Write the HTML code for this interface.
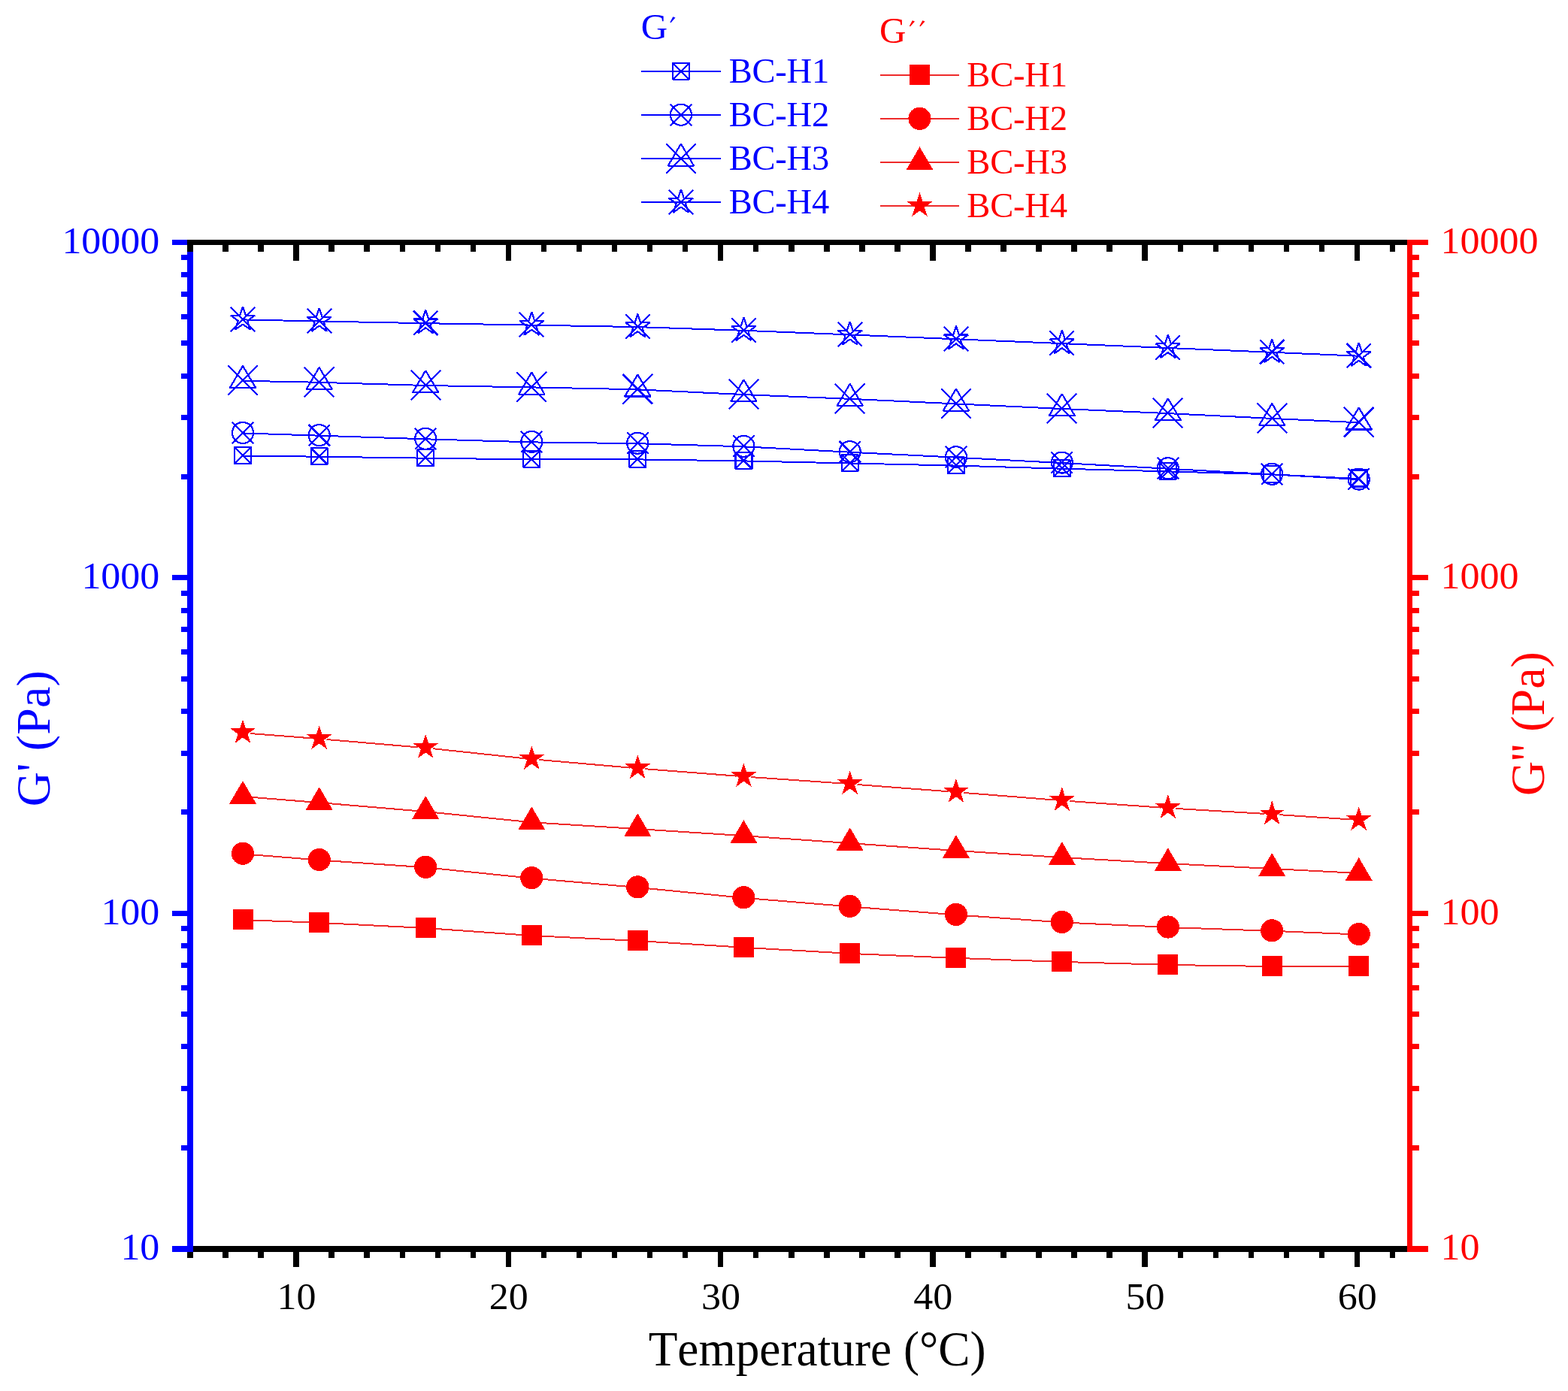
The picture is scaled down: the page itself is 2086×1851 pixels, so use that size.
<!DOCTYPE html>
<html lang="en">
<head>
<meta charset="utf-8">
<title>G' and G'' vs Temperature</title>
<style>
html,body{margin:0;padding:0;background:#fff;}
body{width:2086px;height:1851px;}
svg{display:block;}
</style>
</head>
<body>
<svg width="2086" height="1851" viewBox="0 0 2086 1851">
<rect width="2086" height="1851" fill="#fff"/>
<defs><g id="bsq"><rect x="-11" y="-11" width="22" height="22"/><path d="M-11-11L11 11M-11 11L11-11"/></g><g id="bci"><circle r="14"/><path d="M-14.2-14.2L14.2 14.2M-14.2 14.2L14.2-14.2"/></g><g id="btr"><path d="M0-19.4L17.2 9.8H-17.2Z"/><path d="M-19.8-19.8L19.8 19.8M-19.8 19.8L19.8-19.8"/></g><g id="bst"><polygon points="0.00,-17.00 3.82,-5.25 16.17,-5.25 6.18,2.01 9.99,13.75 0.00,6.49 -9.99,13.75 -6.18,2.01 -16.17,-5.25 -3.82,-5.25"/><path d="M-16.2-16.2L16.2 16.2M-16.2 16.2L16.2-16.2"/></g><rect id="rsq" x="-13.5" y="-13.5" width="27" height="27"/><circle id="rci" r="15.1"/><path id="rtr" d="M0-20.4L18 10.3H-18Z"/><polygon id="rst" points="0.00,-17.60 3.95,-5.44 16.74,-5.44 6.39,2.08 10.35,14.24 0.00,6.72 -10.35,14.24 -6.39,2.08 -16.74,-5.44 -3.95,-5.44"/></defs>
<g id="data" shape-rendering="crispEdges">
<polyline points="323.0,606.6 424.7,607.7 566.2,609.7 707.3,611.4 848.3,611.4 989.4,613.4 1130.7,616.5 1271.9,619.6 1412.8,623.7 1553.8,627.4 1692.2,631.3 1807.7,637.1" stroke="#0000ff" stroke-width="2" fill="none"/><g fill="none" stroke="#0000ff" stroke-width="2.2" stroke-linejoin="bevel"><use href="#bsq" x="323.0" y="606.1"/><use href="#bsq" x="424.7" y="607.2"/><use href="#bsq" x="566.2" y="609.2"/><use href="#bsq" x="707.3" y="610.9"/><use href="#bsq" x="848.3" y="610.9"/><use href="#bsq" x="989.4" y="612.9"/><use href="#bsq" x="1130.7" y="616.0"/><use href="#bsq" x="1271.9" y="619.1"/><use href="#bsq" x="1412.8" y="623.2"/><use href="#bsq" x="1553.8" y="626.9"/><use href="#bsq" x="1692.2" y="630.8"/><use href="#bsq" x="1807.7" y="636.6"/></g>
<polyline points="323.0,576.4 424.7,579.7 566.2,584.3 707.3,588.4 848.3,590.2 989.4,594.3 1130.7,601.7 1271.9,608.7 1412.8,616.1 1553.8,623.7 1692.2,631.3 1807.7,638.1" stroke="#0000ff" stroke-width="2" fill="none"/><g fill="none" stroke="#0000ff" stroke-width="2.2" stroke-linejoin="bevel"><use href="#bci" x="323.0" y="575.9"/><use href="#bci" x="424.7" y="579.2"/><use href="#bci" x="566.2" y="583.8"/><use href="#bci" x="707.3" y="587.9"/><use href="#bci" x="848.3" y="589.7"/><use href="#bci" x="989.4" y="593.8"/><use href="#bci" x="1130.7" y="601.2"/><use href="#bci" x="1271.9" y="608.2"/><use href="#bci" x="1412.8" y="615.6"/><use href="#bci" x="1553.8" y="623.2"/><use href="#bci" x="1692.2" y="630.8"/><use href="#bci" x="1807.7" y="637.6"/></g>
<polyline points="323.0,506.8 424.7,508.8 566.2,513.0 707.3,515.4 848.3,518.3 989.4,525.1 1130.7,530.8 1271.9,537.4 1412.8,544.0 1553.8,550.1 1692.2,556.9 1807.7,562.3" stroke="#0000ff" stroke-width="2" fill="none"/><g fill="none" stroke="#0000ff" stroke-width="2.2" stroke-linejoin="bevel"><use href="#btr" x="323.0" y="506.3"/><use href="#btr" x="424.7" y="508.3"/><use href="#btr" x="566.2" y="512.5"/><use href="#btr" x="707.3" y="514.9"/><use href="#btr" x="848.3" y="517.8"/><use href="#btr" x="989.4" y="524.6"/><use href="#btr" x="1130.7" y="530.3"/><use href="#btr" x="1271.9" y="536.9"/><use href="#btr" x="1412.8" y="543.5"/><use href="#btr" x="1553.8" y="549.6"/><use href="#btr" x="1692.2" y="556.4"/><use href="#btr" x="1807.7" y="561.8"/></g>
<polyline points="323.0,425.4 424.7,427.5 566.2,430.2 707.3,432.6 848.3,435.1 989.4,439.8 1130.7,445.4 1271.9,451.3 1412.8,457.1 1553.8,463.0 1692.2,468.8 1807.7,473.7" stroke="#0000ff" stroke-width="2" fill="none"/><g fill="none" stroke="#0000ff" stroke-width="2.2" stroke-linejoin="bevel"><use href="#bst" x="323.0" y="424.9"/><use href="#bst" x="424.7" y="427.0"/><use href="#bst" x="566.2" y="429.7"/><use href="#bst" x="707.3" y="432.1"/><use href="#bst" x="848.3" y="434.6"/><use href="#bst" x="989.4" y="439.3"/><use href="#bst" x="1130.7" y="444.9"/><use href="#bst" x="1271.9" y="450.8"/><use href="#bst" x="1412.8" y="456.6"/><use href="#bst" x="1553.8" y="462.5"/><use href="#bst" x="1692.2" y="468.3"/><use href="#bst" x="1807.7" y="473.2"/></g>
<path d="M332.8 1224.4L414.9 1227.5M434.5 1228.4L556.4 1234.5M576.0 1235.7L697.5 1244.3M717.1 1245.5L838.5 1251.5M858.1 1252.6L979.6 1260.2M999.2 1261.4L1120.9 1268.3M1140.5 1269.3L1262.1 1274.5M1281.7 1275.2L1403.0 1279.6M1422.6 1280.2L1544.0 1283.6M1563.6 1284.1L1682.4 1285.9M1702.0 1286.1L1797.9 1286.1" stroke="#ee2a2a" stroke-width="2" fill="none"/><g fill="#ff0000"><use href="#rsq" x="323.0" y="1223.5"/><use href="#rsq" x="424.7" y="1227.4"/><use href="#rsq" x="566.2" y="1234.5"/><use href="#rsq" x="707.3" y="1244.5"/><use href="#rsq" x="848.3" y="1251.5"/><use href="#rsq" x="989.4" y="1260.3"/><use href="#rsq" x="1130.7" y="1268.4"/><use href="#rsq" x="1271.9" y="1274.4"/><use href="#rsq" x="1412.8" y="1279.4"/><use href="#rsq" x="1553.8" y="1283.4"/><use href="#rsq" x="1692.2" y="1285.6"/><use href="#rsq" x="1807.7" y="1285.6"/></g>
<path d="M332.8 1137.1L414.9 1143.7M434.5 1145.2L556.4 1153.6M575.9 1155.3L697.6 1167.7M717.1 1169.5L838.5 1180.1M858.1 1181.9L979.6 1193.8M999.2 1195.6L1120.9 1205.6M1140.5 1207.2L1262.1 1216.6M1281.7 1218.1L1403.0 1226.7M1422.6 1227.9L1544.0 1233.5M1563.6 1234.3L1682.4 1238.5M1702.0 1239.2L1797.9 1243.1" stroke="#ee2a2a" stroke-width="2" fill="none"/><g fill="#ff0000"><use href="#rci" x="323.0" y="1135.8"/><use href="#rci" x="424.7" y="1144.0"/><use href="#rci" x="566.2" y="1153.8"/><use href="#rci" x="707.3" y="1168.2"/><use href="#rci" x="848.3" y="1180.4"/><use href="#rci" x="989.4" y="1194.3"/><use href="#rci" x="1130.7" y="1205.9"/><use href="#rci" x="1271.9" y="1216.9"/><use href="#rci" x="1412.8" y="1226.9"/><use href="#rci" x="1553.8" y="1233.5"/><use href="#rci" x="1692.2" y="1238.3"/><use href="#rci" x="1807.7" y="1243.0"/></g>
<path d="M332.8 1060.7L414.9 1067.3M434.5 1068.9L556.4 1079.2M576.0 1081.0L697.5 1093.3M717.1 1094.9L838.5 1102.5M858.1 1103.7L979.6 1111.5M999.2 1112.8L1120.9 1121.4M1140.5 1122.8L1262.1 1131.3M1281.7 1132.6L1403.0 1140.4M1422.6 1141.6L1544.0 1148.5M1563.6 1149.6L1682.4 1155.5M1702.0 1156.5L1797.9 1161.5" stroke="#ee2a2a" stroke-width="2" fill="none"/><g fill="#ff0000"><use href="#rtr" x="323.0" y="1059.4"/><use href="#rtr" x="424.7" y="1067.6"/><use href="#rtr" x="566.2" y="1079.5"/><use href="#rtr" x="707.3" y="1093.8"/><use href="#rtr" x="848.3" y="1102.6"/><use href="#rtr" x="989.4" y="1111.6"/><use href="#rtr" x="1130.7" y="1121.6"/><use href="#rtr" x="1271.9" y="1131.5"/><use href="#rtr" x="1412.8" y="1140.5"/><use href="#rtr" x="1553.8" y="1148.6"/><use href="#rtr" x="1692.2" y="1155.5"/><use href="#rtr" x="1807.7" y="1161.5"/></g>
<path d="M332.8 976.0L414.9 982.4M434.5 984.0L556.4 994.4M575.9 996.2L697.6 1009.2M717.1 1011.0L838.5 1021.6M858.1 1023.2L979.6 1032.6M999.2 1034.1L1120.9 1042.5M1140.5 1044.0L1262.1 1053.3M1281.7 1054.9L1403.0 1064.5M1422.6 1066.0L1544.0 1074.6M1563.6 1075.9L1682.4 1082.9M1702.0 1084.2L1797.9 1090.5" stroke="#ee2a2a" stroke-width="2" fill="none"/><g fill="#ff0000"><use href="#rst" x="323.0" y="974.7"/><use href="#rst" x="424.7" y="982.7"/><use href="#rst" x="566.2" y="994.7"/><use href="#rst" x="707.3" y="1009.7"/><use href="#rst" x="848.3" y="1021.9"/><use href="#rst" x="989.4" y="1032.9"/><use href="#rst" x="1130.7" y="1042.7"/><use href="#rst" x="1271.9" y="1053.6"/><use href="#rst" x="1412.8" y="1064.8"/><use href="#rst" x="1553.8" y="1074.8"/><use href="#rst" x="1692.2" y="1083.0"/><use href="#rst" x="1807.7" y="1090.7"/></g>
</g>
<g id="axes" shape-rendering="crispEdges"><rect x="249.00" y="1658.00" width="1630.00" height="8.00" fill="#000000"/><rect x="249.00" y="319.00" width="1630.00" height="7.00" fill="#000000"/><rect x="249.00" y="1666.00" width="8.00" height="8.00" fill="#000000"/><rect x="249.00" y="326.00" width="8.00" height="9.00" fill="#000000"/><rect x="296.00" y="1666.00" width="8.00" height="8.00" fill="#000000"/><rect x="296.00" y="326.00" width="8.00" height="9.00" fill="#000000"/><rect x="343.00" y="1666.00" width="8.00" height="8.00" fill="#000000"/><rect x="343.00" y="326.00" width="8.00" height="9.00" fill="#000000"/><rect x="390.00" y="1666.00" width="8.00" height="20.00" fill="#000000"/><rect x="390.00" y="326.00" width="8.00" height="21.00" fill="#000000"/><rect x="437.00" y="1666.00" width="8.00" height="8.00" fill="#000000"/><rect x="437.00" y="326.00" width="8.00" height="9.00" fill="#000000"/><rect x="484.00" y="1666.00" width="8.00" height="8.00" fill="#000000"/><rect x="484.00" y="326.00" width="8.00" height="9.00" fill="#000000"/><rect x="532.00" y="1666.00" width="7.00" height="8.00" fill="#000000"/><rect x="532.00" y="326.00" width="7.00" height="9.00" fill="#000000"/><rect x="579.00" y="1666.00" width="7.00" height="8.00" fill="#000000"/><rect x="579.00" y="326.00" width="7.00" height="9.00" fill="#000000"/><rect x="626.00" y="1666.00" width="7.00" height="8.00" fill="#000000"/><rect x="626.00" y="326.00" width="7.00" height="9.00" fill="#000000"/><rect x="673.00" y="1666.00" width="7.00" height="20.00" fill="#000000"/><rect x="673.00" y="326.00" width="7.00" height="21.00" fill="#000000"/><rect x="720.00" y="1666.00" width="7.00" height="8.00" fill="#000000"/><rect x="720.00" y="326.00" width="7.00" height="9.00" fill="#000000"/><rect x="767.00" y="1666.00" width="7.00" height="8.00" fill="#000000"/><rect x="767.00" y="326.00" width="7.00" height="9.00" fill="#000000"/><rect x="814.00" y="1666.00" width="7.00" height="8.00" fill="#000000"/><rect x="814.00" y="326.00" width="7.00" height="9.00" fill="#000000"/><rect x="861.00" y="1666.00" width="7.00" height="8.00" fill="#000000"/><rect x="861.00" y="326.00" width="7.00" height="9.00" fill="#000000"/><rect x="908.00" y="1666.00" width="7.00" height="8.00" fill="#000000"/><rect x="908.00" y="326.00" width="7.00" height="9.00" fill="#000000"/><rect x="955.00" y="1666.00" width="7.00" height="20.00" fill="#000000"/><rect x="955.00" y="326.00" width="7.00" height="21.00" fill="#000000"/><rect x="1002.00" y="1666.00" width="7.00" height="8.00" fill="#000000"/><rect x="1002.00" y="326.00" width="7.00" height="9.00" fill="#000000"/><rect x="1049.00" y="1666.00" width="8.00" height="8.00" fill="#000000"/><rect x="1049.00" y="326.00" width="8.00" height="9.00" fill="#000000"/><rect x="1096.00" y="1666.00" width="8.00" height="8.00" fill="#000000"/><rect x="1096.00" y="326.00" width="8.00" height="9.00" fill="#000000"/><rect x="1143.00" y="1666.00" width="8.00" height="8.00" fill="#000000"/><rect x="1143.00" y="326.00" width="8.00" height="9.00" fill="#000000"/><rect x="1190.00" y="1666.00" width="8.00" height="8.00" fill="#000000"/><rect x="1190.00" y="326.00" width="8.00" height="9.00" fill="#000000"/><rect x="1237.00" y="1666.00" width="8.00" height="20.00" fill="#000000"/><rect x="1237.00" y="326.00" width="8.00" height="21.00" fill="#000000"/><rect x="1284.00" y="1666.00" width="8.00" height="8.00" fill="#000000"/><rect x="1284.00" y="326.00" width="8.00" height="9.00" fill="#000000"/><rect x="1331.00" y="1666.00" width="8.00" height="8.00" fill="#000000"/><rect x="1331.00" y="326.00" width="8.00" height="9.00" fill="#000000"/><rect x="1378.00" y="1666.00" width="8.00" height="8.00" fill="#000000"/><rect x="1378.00" y="326.00" width="8.00" height="9.00" fill="#000000"/><rect x="1425.00" y="1666.00" width="8.00" height="8.00" fill="#000000"/><rect x="1425.00" y="326.00" width="8.00" height="9.00" fill="#000000"/><rect x="1472.00" y="1666.00" width="8.00" height="8.00" fill="#000000"/><rect x="1472.00" y="326.00" width="8.00" height="9.00" fill="#000000"/><rect x="1519.00" y="1666.00" width="8.00" height="20.00" fill="#000000"/><rect x="1519.00" y="326.00" width="8.00" height="21.00" fill="#000000"/><rect x="1567.00" y="1666.00" width="7.00" height="8.00" fill="#000000"/><rect x="1567.00" y="326.00" width="7.00" height="9.00" fill="#000000"/><rect x="1614.00" y="1666.00" width="7.00" height="8.00" fill="#000000"/><rect x="1614.00" y="326.00" width="7.00" height="9.00" fill="#000000"/><rect x="1661.00" y="1666.00" width="7.00" height="8.00" fill="#000000"/><rect x="1661.00" y="326.00" width="7.00" height="9.00" fill="#000000"/><rect x="1708.00" y="1666.00" width="7.00" height="8.00" fill="#000000"/><rect x="1708.00" y="326.00" width="7.00" height="9.00" fill="#000000"/><rect x="1755.00" y="1666.00" width="7.00" height="8.00" fill="#000000"/><rect x="1755.00" y="326.00" width="7.00" height="9.00" fill="#000000"/><rect x="1802.00" y="1666.00" width="7.00" height="20.00" fill="#000000"/><rect x="1802.00" y="326.00" width="7.00" height="21.00" fill="#000000"/><rect x="1849.00" y="1666.00" width="7.00" height="8.00" fill="#000000"/><rect x="1849.00" y="326.00" width="7.00" height="9.00" fill="#000000"/><rect x="249.00" y="335.00" width="8.00" height="1331.00" fill="#0000ff"/><rect x="1872.00" y="319.00" width="7.00" height="1347.00" fill="#ff0000"/><rect x="229.00" y="1658.00" width="28.00" height="8.00" fill="#0000ff"/><rect x="1879.00" y="1658.00" width="21.00" height="8.00" fill="#ff0000"/><rect x="241.00" y="1524.00" width="8.00" height="7.00" fill="#0000ff"/><rect x="1879.00" y="1524.00" width="9.00" height="7.00" fill="#ff0000"/><rect x="241.00" y="1445.00" width="8.00" height="7.00" fill="#0000ff"/><rect x="1879.00" y="1445.00" width="9.00" height="7.00" fill="#ff0000"/><rect x="241.00" y="1389.00" width="8.00" height="7.00" fill="#0000ff"/><rect x="1879.00" y="1389.00" width="9.00" height="7.00" fill="#ff0000"/><rect x="241.00" y="1346.00" width="8.00" height="7.00" fill="#0000ff"/><rect x="1879.00" y="1346.00" width="9.00" height="7.00" fill="#ff0000"/><rect x="241.00" y="1311.00" width="8.00" height="7.00" fill="#0000ff"/><rect x="1879.00" y="1311.00" width="9.00" height="7.00" fill="#ff0000"/><rect x="241.00" y="1281.00" width="8.00" height="7.00" fill="#0000ff"/><rect x="1879.00" y="1281.00" width="9.00" height="7.00" fill="#ff0000"/><rect x="241.00" y="1255.00" width="8.00" height="7.00" fill="#0000ff"/><rect x="1879.00" y="1255.00" width="9.00" height="7.00" fill="#ff0000"/><rect x="241.00" y="1232.00" width="8.00" height="7.00" fill="#0000ff"/><rect x="1879.00" y="1232.00" width="9.00" height="7.00" fill="#ff0000"/><rect x="229.00" y="1212.00" width="20.00" height="7.00" fill="#0000ff"/><rect x="1879.00" y="1212.00" width="21.00" height="7.00" fill="#ff0000"/><rect x="241.00" y="1077.00" width="8.00" height="7.00" fill="#0000ff"/><rect x="1879.00" y="1077.00" width="9.00" height="7.00" fill="#ff0000"/><rect x="241.00" y="999.00" width="8.00" height="7.00" fill="#0000ff"/><rect x="1879.00" y="999.00" width="9.00" height="7.00" fill="#ff0000"/><rect x="241.00" y="943.00" width="8.00" height="7.00" fill="#0000ff"/><rect x="1879.00" y="943.00" width="9.00" height="7.00" fill="#ff0000"/><rect x="241.00" y="900.00" width="8.00" height="7.00" fill="#0000ff"/><rect x="1879.00" y="900.00" width="9.00" height="7.00" fill="#ff0000"/><rect x="241.00" y="864.00" width="8.00" height="7.00" fill="#0000ff"/><rect x="1879.00" y="864.00" width="9.00" height="7.00" fill="#ff0000"/><rect x="241.00" y="834.00" width="8.00" height="7.00" fill="#0000ff"/><rect x="1879.00" y="834.00" width="9.00" height="7.00" fill="#ff0000"/><rect x="241.00" y="809.00" width="8.00" height="7.00" fill="#0000ff"/><rect x="1879.00" y="809.00" width="9.00" height="7.00" fill="#ff0000"/><rect x="241.00" y="786.00" width="8.00" height="7.00" fill="#0000ff"/><rect x="1879.00" y="786.00" width="9.00" height="7.00" fill="#ff0000"/><rect x="229.00" y="765.00" width="20.00" height="7.00" fill="#0000ff"/><rect x="1879.00" y="765.00" width="21.00" height="7.00" fill="#ff0000"/><rect x="241.00" y="631.00" width="8.00" height="7.00" fill="#0000ff"/><rect x="1879.00" y="631.00" width="9.00" height="7.00" fill="#ff0000"/><rect x="241.00" y="552.00" width="8.00" height="7.00" fill="#0000ff"/><rect x="1879.00" y="552.00" width="9.00" height="7.00" fill="#ff0000"/><rect x="241.00" y="497.00" width="8.00" height="7.00" fill="#0000ff"/><rect x="1879.00" y="497.00" width="9.00" height="7.00" fill="#ff0000"/><rect x="241.00" y="453.00" width="8.00" height="7.00" fill="#0000ff"/><rect x="1879.00" y="453.00" width="9.00" height="7.00" fill="#ff0000"/><rect x="241.00" y="418.00" width="8.00" height="7.00" fill="#0000ff"/><rect x="1879.00" y="418.00" width="9.00" height="7.00" fill="#ff0000"/><rect x="241.00" y="388.00" width="8.00" height="7.00" fill="#0000ff"/><rect x="1879.00" y="388.00" width="9.00" height="7.00" fill="#ff0000"/><rect x="241.00" y="362.00" width="8.00" height="7.00" fill="#0000ff"/><rect x="1879.00" y="362.00" width="9.00" height="7.00" fill="#ff0000"/><rect x="241.00" y="339.00" width="8.00" height="7.00" fill="#0000ff"/><rect x="1879.00" y="339.00" width="9.00" height="7.00" fill="#ff0000"/><rect x="229.00" y="319.00" width="20.00" height="7.00" fill="#0000ff"/><rect x="1879.00" y="319.00" width="21.00" height="7.00" fill="#ff0000"/></g>
<g font-family="'Liberation Serif', 'Times New Roman', serif" style="font-kerning:none" font-kerning="none"><text transform="translate(160.38,1676.00) scale(1,0.9769)" font-size="52.00" letter-spacing="0.000" fill="#0000ff">10</text><text transform="translate(1916.43,1676.00) scale(1,0.9769)" font-size="52.00" letter-spacing="0.000" fill="#ff0000">10</text><text transform="translate(134.38,1229.67) scale(1,0.9769)" font-size="52.00" letter-spacing="0.000" fill="#0000ff">100</text><text transform="translate(1916.43,1229.67) scale(1,0.9769)" font-size="52.00" letter-spacing="0.000" fill="#ff0000">100</text><text transform="translate(108.38,783.34) scale(1,0.9769)" font-size="52.00" letter-spacing="0.000" fill="#0000ff">1000</text><text transform="translate(1916.43,783.34) scale(1,0.9769)" font-size="52.00" letter-spacing="0.000" fill="#ff0000">1000</text><text transform="translate(82.38,337.00) scale(1,0.9769)" font-size="52.00" letter-spacing="0.000" fill="#0000ff">10000</text><text transform="translate(1916.43,337.00) scale(1,0.9769)" font-size="52.00" letter-spacing="0.000" fill="#ff0000">10000</text><text transform="translate(368.44,1741.70) scale(1,0.9769)" font-size="52.00" letter-spacing="0.000" fill="#000000">10</text><text transform="translate(650.71,1741.70) scale(1,0.9769)" font-size="52.00" letter-spacing="0.000" fill="#000000">20</text><text transform="translate(932.98,1741.70) scale(1,0.9769)" font-size="52.00" letter-spacing="0.000" fill="#000000">30</text><text transform="translate(1215.25,1741.70) scale(1,0.9769)" font-size="52.00" letter-spacing="0.000" fill="#000000">40</text><text transform="translate(1497.53,1741.70) scale(1,0.9769)" font-size="52.00" letter-spacing="0.000" fill="#000000">50</text><text transform="translate(1779.80,1741.70) scale(1,0.9769)" font-size="52.00" letter-spacing="0.000" fill="#000000">60</text><text transform="translate(862.66,1817.20) scale(1,1.0363)" font-size="63.30" letter-spacing="0.018" fill="#000000">Temperature (°C)</text><text transform="translate(66,1073.33) rotate(-90)" x="0" y="0" font-size="64.00" letter-spacing="0.144" fill="#0000ff">G' (Pa)</text><text transform="translate(2054,1059.12) rotate(-90)" x="0" y="0" font-size="64.00" letter-spacing="0.019" fill="#ff0000">G'' (Pa)</text><text font-size="49.00" fill="#0000ff"><tspan x="852.79" y="52.4">G</tspan><tspan x="884.0" y="42.9" font-size="36" rotate="22">′</tspan></text><text font-size="49.00" fill="#ff0000"><tspan x="1170.04" y="57.4">G</tspan><tspan x="1202.6 1215.9" y="48 48" font-size="36" rotate="22">′′</tspan></text><text x="969.66" y="110.00" font-size="46.60" letter-spacing="-0.250" fill="#0000ff">BC-H1</text><text x="1286.36" y="114.90" font-size="46.60" letter-spacing="-0.250" fill="#ff0000">BC-H1</text><text x="969.66" y="168.05" font-size="46.60" letter-spacing="-0.250" fill="#0000ff">BC-H2</text><text x="1286.36" y="172.95" font-size="46.60" letter-spacing="-0.250" fill="#ff0000">BC-H2</text><text x="969.66" y="226.10" font-size="46.60" letter-spacing="-0.250" fill="#0000ff">BC-H3</text><text x="1286.36" y="231.00" font-size="46.60" letter-spacing="-0.250" fill="#ff0000">BC-H3</text><text x="969.66" y="284.15" font-size="46.60" letter-spacing="-0.250" fill="#0000ff">BC-H4</text><text x="1286.36" y="289.05" font-size="46.60" letter-spacing="-0.250" fill="#ff0000">BC-H4</text></g>
<g shape-rendering="crispEdges"><g stroke="#0000ff" stroke-width="2" fill="none" stroke-linejoin="bevel"><path d="M853.2 94.8H959.2"/><use href="#bsq" x="905.9" y="94.8" stroke-width="2.2"/><path d="M853.2 152.8H959.2"/><use href="#bci" x="905.9" y="152.8" stroke-width="2.2"/><path d="M853.2 210.9H959.2"/><use href="#btr" x="905.9" y="210.9" stroke-width="2.2"/><path d="M853.2 268.9H959.2"/><use href="#bst" x="905.9" y="268.9" stroke-width="2.2"/></g><g stroke="#ee2a2a" stroke-width="2"><path d="M1171.1 99.8H1276"/><path d="M1171.1 157.8H1276"/><path d="M1171.1 215.8H1276"/><path d="M1171.1 273.8H1276"/></g><g fill="#ff0000"><use href="#rsq" x="1223.5" y="99.8"/><use href="#rci" x="1223.5" y="157.8"/><use href="#rtr" x="1223.5" y="215.8"/><use href="#rst" x="1223.5" y="273.8"/></g></g>
</svg>
</body>
</html>
